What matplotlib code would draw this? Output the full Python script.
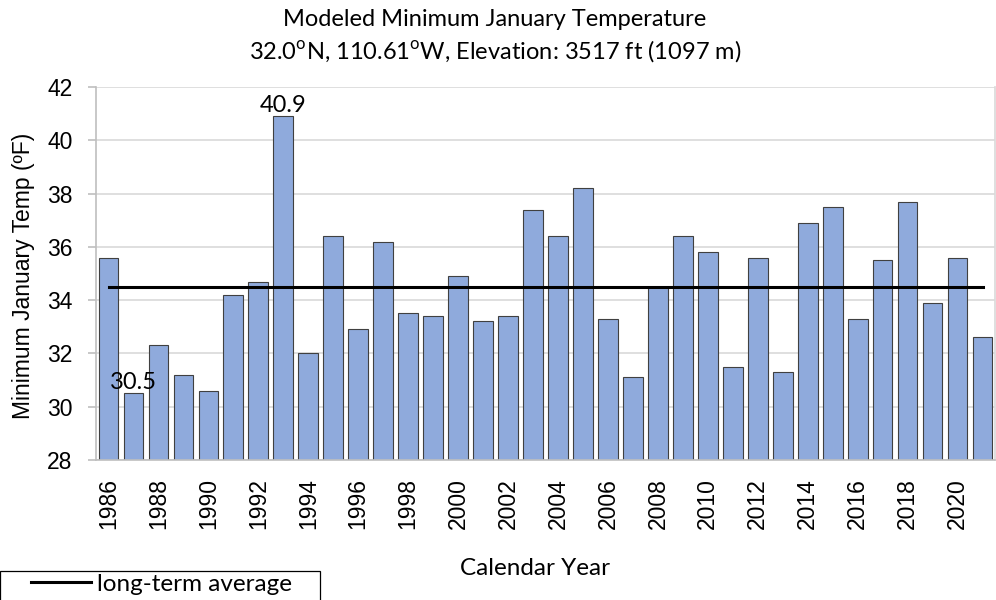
import numpy as np
import matplotlib
matplotlib.use("Agg")
import matplotlib.pyplot as plt
from matplotlib.patches import Rectangle

plt.rcParams['font.family'] = ['Lato', 'DejaVu Sans']
plt.rcParams['mathtext.fontset'] = 'custom'
plt.rcParams['mathtext.rm'] = 'Lato'

# data
years = list(range(1986, 2022))
temps = [35.6, 30.5, 32.3, 31.2, 30.6, 34.2, 34.7, 40.9, 32.0, 36.4,
         32.9, 36.2, 33.5, 33.4, 34.9, 33.2, 33.4, 37.4, 36.4, 38.2,
         33.3, 31.1, 34.5, 36.4, 35.8, 31.5, 35.6, 31.3, 36.9, 37.5,
         33.3, 35.5, 37.7, 33.9, 35.6, 32.6]
long_term_avg = 34.5
labelled_years = [1987, 1993]

arial = 'Liberation Sans'

fig = plt.figure(figsize=(9.96, 6.0), dpi=100)
ax = fig.add_axes([0.0964, 0.2333, 0.9026, 0.6217])

x = np.arange(len(years))
ax.bar(x, temps, width=0.79, color='#8FAADC', edgecolor='#404040',
       linewidth=0.8, zorder=2)
avg_line, = ax.plot([x[0], x[-1]], [long_term_avg, long_term_avg],
                    color='black', linewidth=2.2, zorder=3,
                    label='long-term average')

# value labels on the min / max bars
for yr in labelled_years:
    i = years.index(yr)
    ax.text(x[i], temps[i] + 0.02, f"{temps[i]:.1f}", ha='center',
            va='bottom', fontsize=17, zorder=4)

ax.set_xlim(-0.5, len(years) - 0.5)
ax.set_ylim(28, 42)
ax.set_yticks(np.arange(28, 43, 2))
ax.set_xticks(x[::2])
ax.set_xticklabels([str(y) for y in years[::2]], rotation=90)
ax.tick_params(labelsize=16.5, labelfontfamily=arial)
ax.tick_params(axis='y', length=6, width=1.2, color='#BFBFBF', pad=11)
ax.tick_params(axis='x', length=0, pad=13)

ax.grid(axis='y', color='#D9D9D9', linewidth=1.2, zorder=0)
ax.set_axisbelow(True)
for side in ['left', 'bottom']:
    ax.spines[side].set_color('#BFBFBF')
    ax.spines[side].set_linewidth(1.2)
ax.spines['top'].set_visible(False)
ax.spines['right'].set_color('#D9D9D9')
ax.spines['right'].set_linewidth(1.2)

fig.text(0.024, 0.54, 'Minimum January Temp (\u00baF)', rotation=90,
         ha='center', va='center', fontsize=16.5, family=arial)
fig.text(0.537, 0.053, 'Calendar Year', ha='center', va='center', fontsize=17.5)

fig.text(0.497, 0.968, 'Modeled Minimum January Temperature',
         ha='center', va='center', fontsize=17)
fig.text(0.497, 0.915, r'32.0$^{\rm o}$N, 110.61$^{\rm o}$W, Elevation: 3517 ft (1097 m)',
         ha='center', va='center', fontsize=17)

# legend: box runs off the bottom edge like in the reference
fig.legend(handles=[avg_line], loc='center left',
           bbox_to_anchor=(31 / 996, 1 - 584 / 600), fontsize=17.5,
           frameon=False, handlelength=2.45, handletextpad=0.25,
           borderpad=0, borderaxespad=0)
fig.patches.append(Rectangle((0.0005, -0.05), 320 / 996, 0.05 + 1 - 571 / 600,
                             transform=fig.transFigure, fill=False,
                             edgecolor='black', linewidth=0.9))

fig.savefig('out.png', dpi=100)
